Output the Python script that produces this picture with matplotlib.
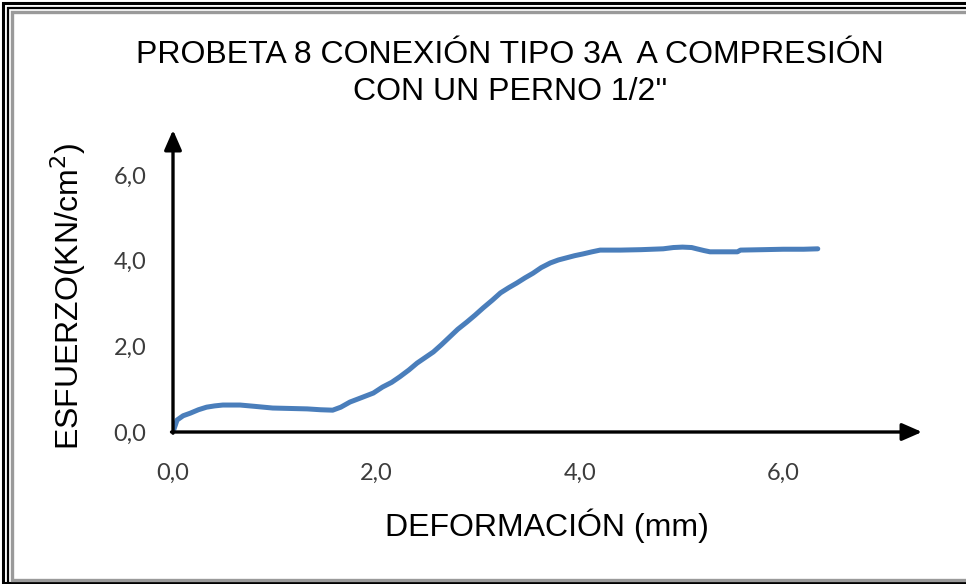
import matplotlib
matplotlib.use("Agg")
import matplotlib.pyplot as plt
from matplotlib.lines import Line2D

# Load-deformation record of the specimen
deformation_mm = [0.00, 0.04, 0.10, 0.17, 0.25, 0.33, 0.41, 0.49, 0.58, 0.66, 0.80,
                  0.98, 1.15, 1.32, 1.45, 1.57, 1.65, 1.74, 1.85, 1.97, 2.06,
                  2.15, 2.23, 2.32, 2.40, 2.48, 2.56, 2.64, 2.72, 2.80, 2.89,
                  2.97, 3.05, 3.14, 3.22, 3.30, 3.38, 3.46, 3.54, 3.62, 3.71,
                  3.79, 3.87, 3.95, 4.03, 4.12, 4.20, 4.40, 4.60, 4.82, 4.92,
                  5.01, 5.10, 5.15, 5.22, 5.28, 5.40, 5.55, 5.58, 5.80, 6.00,
                  6.20, 6.34]
stress_kn_cm2 = [0.00, 0.28, 0.38, 0.44, 0.52, 0.58, 0.61, 0.63, 0.63, 0.63, 0.60,
                 0.56, 0.55, 0.54, 0.52, 0.51, 0.58, 0.70, 0.80, 0.91, 1.05,
                 1.16, 1.29, 1.45, 1.61, 1.74, 1.87, 2.04, 2.22, 2.40, 2.57,
                 2.73, 2.90, 3.08, 3.25, 3.37, 3.48, 3.60, 3.71, 3.84, 3.95,
                 4.02, 4.07, 4.12, 4.16, 4.21, 4.25, 4.25, 4.26, 4.28, 4.31,
                 4.32, 4.31, 4.28, 4.24, 4.21, 4.21, 4.21, 4.25, 4.26, 4.27,
                 4.27, 4.28]

x_ticks = [0, 2, 4, 6]
x_tick_labels = ["0,0", "2,0", "4,0", "6,0"]
y_ticks = [0, 2, 4, 6]
y_tick_labels = ["0,0", "2,0", "4,0", "6,0"]

title_line1 = "PROBETA 8 CONEXIÓN TIPO 3A  A COMPRESIÓN"
title_line2 = "CON UN PERNO 1/2''"
x_label = "DEFORMACIÓN (mm)"
y_label = r"ESFUERZO(KN/cm$^2$)"

W, H = 966, 584
fig = plt.figure(figsize=(W / 100, H / 100), dpi=100)
fig.patch.set_facecolor("white")


def fx(px):
    return px / W


def fy(py):
    return 1 - py / H


# Axes area in pixels: left, right, bottom, top
L, R, B, T = 173, 922, 432, 130
ax = fig.add_axes([fx(L), fy(B), fx(R - L), (B - T) / H])
ax.set_xlim(0, (R - L) / 101.7)
ax.set_ylim(0, (B - T) / 42.8)
for s in ax.spines.values():
    s.set_visible(False)
ax.patch.set_alpha(0)

ax.plot(deformation_mm, stress_kn_cm2, color="#4A7EBB", lw=3.6,
        solid_capstyle="round", solid_joinstyle="round", zorder=3)

# Arrow-headed axes
arrow_kw = dict(arrowstyle="-|>,head_length=0.8,head_width=0.35", lw=2.4,
                color="black", shrinkA=0, shrinkB=0, mutation_scale=15)
ax.annotate("", xy=(1, 0), xytext=(-0.002, 0), xycoords="axes fraction",
            arrowprops=arrow_kw, zorder=4)
ax.annotate("", xy=(0, 1), xytext=(0, -0.004), xycoords="axes fraction",
            arrowprops=arrow_kw, zorder=4)

tick_font = dict(family=["Lato", "DejaVu Sans"], size=17, color="#3c3c3c")
ax.set_xticks(x_ticks)
ax.set_xticklabels(x_tick_labels, **tick_font)
ax.set_yticks(y_ticks)
ax.set_yticklabels(y_tick_labels, **tick_font)
ax.tick_params(axis="x", length=0, pad=22)
ax.tick_params(axis="y", length=0, pad=19)

label_font = dict(family=["Liberation Sans", "DejaVu Sans"], size=23, color="black")
fig.text(fx(510), fy(55), title_line1, ha="center", va="center", **label_font)
fig.text(fx(510), fy(92), title_line2, ha="center", va="center", **label_font)
fig.text(fx(547), fy(526), x_label, ha="center", va="center", **label_font)
fig.text(fx(68), fy(296), y_label, ha="center", va="center", rotation=90, **label_font)

# Double frame around the chart
def frame(x0, y0, x1, y1, color, lw):
    xs = [fx(x1), fx(x0), fx(x0), fx(x1)]
    ys = [fy(y0), fy(y0), fy(y1), fy(y1)]
    fig.add_artist(Line2D(xs, ys, color=color, lw=lw, transform=fig.transFigure,
                          solid_joinstyle="miter"))

frame(3, 3, 990, 583, "black", 2.2)
frame(8, 8, 990, 600, "black", 1.6)
frame(11.5, 11.5, 990, 580, "#9a9a9a", 2.4)

fig.savefig("out.png", dpi=100, facecolor="white")
